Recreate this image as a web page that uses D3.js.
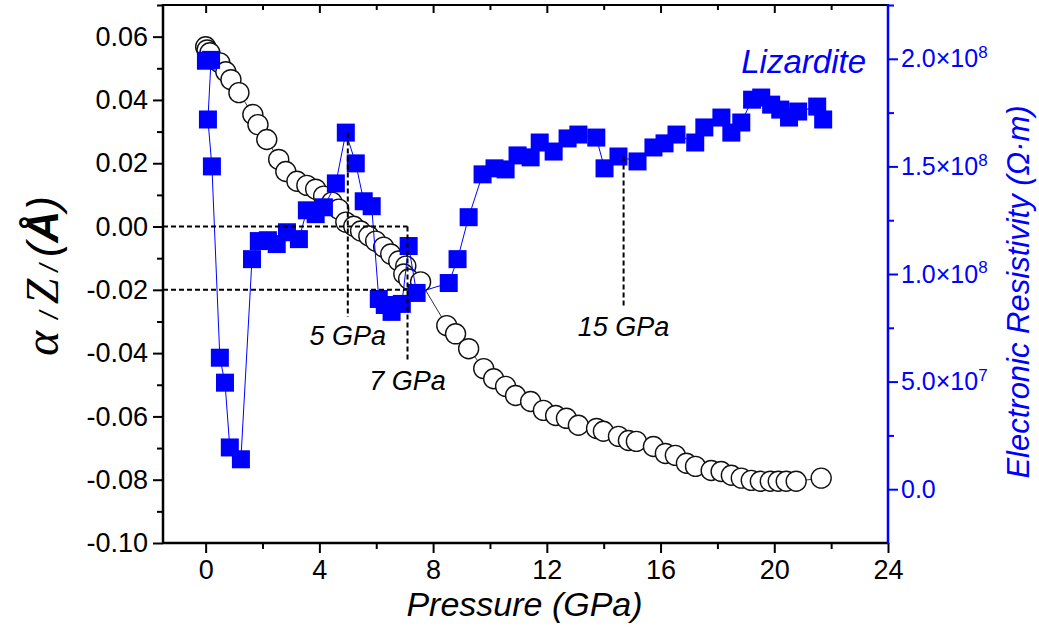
<!DOCTYPE html>
<html>
<head>
<meta charset="utf-8">
<script src="https://cdn.jsdelivr.net/npm/d3@7"></script>
<style>
  html, body { margin: 0; padding: 0; background: #fff; }
  svg { display: block; font-family: "Liberation Sans", Arial, sans-serif; }
</style>
</head>
<body>
<svg id="chart" width="1039" height="630"></svg>
<script>
// Lizardite: interlayer parameter α/Z/ (left axis) and electronic resistivity (right axis) vs pressure
const alphaPressure = [0.0, 0.05, 0.15, 0.50, 0.71, 0.89, 1.17, 1.66, 1.84, 2.15, 2.57, 2.82, 3.21, 3.56, 3.87, 4.15, 4.44, 4.68, 4.93, 5.21, 5.45, 5.74, 5.98, 6.26, 6.51, 6.79, 7.04, 6.97, 7.14, 7.56, 8.48, 8.79, 9.25, 9.78, 10.13, 10.55, 10.90, 11.43, 11.88, 12.31, 12.69, 13.11, 13.75, 13.99, 14.52, 14.87, 15.15, 15.75, 16.17, 16.52, 16.91, 17.23, 17.78, 18.13, 18.49, 18.84, 19.19, 19.51, 19.86, 20.14, 20.42, 20.77, 21.65];
const alphaZ = [0.0568, 0.0558, 0.0549, 0.0517, 0.0489, 0.0464, 0.0423, 0.0354, 0.0322, 0.0275, 0.0212, 0.0174, 0.0143, 0.0130, 0.0118, 0.0096, 0.0077, 0.0055, 0.0014, 0.0001, -0.0014, -0.0030, -0.0046, -0.0065, -0.0087, -0.0109, -0.0125, -0.0150, -0.0166, -0.0175, -0.0313, -0.0339, -0.0386, -0.0449, -0.0481, -0.0505, -0.0534, -0.0553, -0.0581, -0.0597, -0.0606, -0.0628, -0.0638, -0.0647, -0.0663, -0.0676, -0.0679, -0.0695, -0.0717, -0.0723, -0.0748, -0.0758, -0.0771, -0.0774, -0.0786, -0.0795, -0.0802, -0.0805, -0.0805, -0.0805, -0.0805, -0.0805, -0.0795];

const rhoPressure = [0.01, 0.19, 0.08, 0.22, 0.50, 0.68, 0.85, 1.24, 1.63, 1.87, 2.19, 2.50, 2.86, 3.28, 3.56, 3.87, 4.16, 4.58, 4.93, 5.28, 5.56, 5.84, 6.09, 6.30, 6.54, 6.90, 7.14, 7.42, 8.55, 8.86, 9.25, 9.74, 10.16, 10.55, 10.97, 11.43, 11.75, 12.24, 12.73, 13.11, 13.74, 14.03, 14.52, 15.19, 15.75, 16.14, 16.56, 17.22, 17.54, 18.14, 18.49, 18.84, 19.22, 19.54, 19.89, 20.21, 20.52, 20.84, 21.51, 21.72];
const rho = [1.991e8, 1.995e8, 1.718e8, 1.500e8, 0.611e8, 0.495e8, 0.194e8, 0.139e8, 1.069e8, 1.153e8, 1.157e8, 1.139e8, 1.194e8, 1.162e8, 1.296e8, 1.278e8, 1.310e8, 1.421e8, 1.657e8, 1.514e8, 1.338e8, 1.315e8, 0.884e8, 0.856e8, 0.824e8, 0.861e8, 1.130e8, 0.912e8, 0.958e8, 1.069e8, 1.264e8, 1.463e8, 1.491e8, 1.486e8, 1.551e8, 1.542e8, 1.611e8, 1.569e8, 1.630e8, 1.648e8, 1.634e8, 1.491e8, 1.546e8, 1.523e8, 1.588e8, 1.607e8, 1.648e8, 1.611e8, 1.681e8, 1.727e8, 1.657e8, 1.704e8, 1.810e8, 1.820e8, 1.787e8, 1.764e8, 1.727e8, 1.755e8, 1.778e8, 1.718e8];

const xTicks = [0, 4, 8, 12, 16, 20, 24];
const xMinorTicks = [2, 6, 10, 14, 18, 22];
const yLeftTicks = [-0.10, -0.08, -0.06, -0.04, -0.02, 0.00, 0.02, 0.04, 0.06];
const yLeftMinorTicks = [-0.09, -0.07, -0.05, -0.03, -0.01, 0.01, 0.03, 0.05, 0.07];
const yRightTicks = [0, 5e7, 1e8, 1.5e8, 2e8];
const yRightMinorTicks = [2.5e7, 7.5e7, 1.25e8, 1.75e8, 2.25e8];

// Reference guides: dashed levels and pressures marked on the plot
const guideLevels = [0.00, -0.02];
const guideLevelEnd = 7.1;
const markerPressures = [5, 7.1, 14.7];
const markerLabels = ["5 GPa", "7 GPa", "15 GPa"];

const BLUE = "#0000ff";
const svg = d3.select("#chart");
const L = 163, R = 888, T = 5, B = 543;

const x = d3.scaleLinear().domain([-1.5, 24]).range([L, R]);
const yL = d3.scaleLinear().domain([-0.10, 0.07]).range([B, T]);
const yR = d3.scaleLinear().domain([-2.5e7, 2.25e8]).range([B, T]);

// plain hyphen-minus for negative tick values
const fmtLeft = v => d3.format(".2f")(v).replace("−", "-");

// ---- axes ----
function styleAxis(g, color, width, size) {
  g.select(".domain").remove();
  g.selectAll(".tick line").attr("stroke", color).attr("stroke-width", width);
  g.selectAll(".tick text").attr("fill", color).style("font-size", (size || 27) + "px");
}

// minor ticks
svg.append("g").attr("transform", `translate(0,${B})`)
  .call(d3.axisBottom(x).tickValues(xMinorTicks).tickSize(6).tickFormat(""))
  .call(g => styleAxis(g, "#000", 2));
svg.append("g").attr("transform", `translate(${L},0)`)
  .call(d3.axisLeft(yL).tickValues(yLeftMinorTicks).tickSize(6).tickFormat(""))
  .call(g => styleAxis(g, "#000", 2));
svg.append("g").attr("transform", `translate(${R},0)`)
  .call(d3.axisRight(yR).tickValues(yRightMinorTicks).tickSize(6).tickFormat(""))
  .call(g => styleAxis(g, BLUE, 2));
// top axis: inward ticks, no labels
svg.append("g").attr("transform", `translate(0,${T})`)
  .call(d3.axisBottom(x).tickValues(xMinorTicks).tickSize(5).tickFormat(""))
  .call(g => styleAxis(g, "#000", 2));
svg.append("g").attr("transform", `translate(0,${T})`)
  .call(d3.axisBottom(x).tickValues(xTicks.slice(0, -1)).tickSize(8).tickFormat(""))
  .call(g => styleAxis(g, "#000", 2));

// major ticks with labels
svg.append("g").attr("transform", `translate(0,${B})`)
  .call(d3.axisBottom(x).tickValues(xTicks).tickSize(10).tickPadding(7).tickFormat(d3.format("d")))
  .call(g => styleAxis(g, "#000", 2, 27));
svg.append("g").attr("transform", `translate(${L},0)`)
  .call(d3.axisLeft(yL).tickValues(yLeftTicks).tickSize(10).tickPadding(5).tickFormat(fmtLeft))
  .call(g => styleAxis(g, "#000", 2, 27));

const rightAxis = svg.append("g").attr("transform", `translate(${R},0)`)
  .call(d3.axisRight(yR).tickValues(yRightTicks).tickSize(10).tickPadding(3).tickFormat(""))
  .call(g => styleAxis(g, BLUE, 2, 25));
rightAxis.selectAll(".tick").each(function(d) {
  const t = d3.select(this).select("text").text(null);
  if (d === 0) { t.text("0.0"); return; }
  const e = Math.floor(Math.log10(d));
  const m = d / Math.pow(10, e);
  t.append("tspan").text(m.toFixed(1) + "×10");
  t.append("tspan").attr("dy", "-0.55em").style("font-size", "17px").text(e);
});
rightAxis.selectAll(".tick text").attr("dy", "0.32em");

// frame lines
svg.append("line").attr("x1", L).attr("x2", R).attr("y1", T).attr("y2", T).attr("stroke", "#000").attr("stroke-width", 2);
svg.append("line").attr("x1", L).attr("x2", R).attr("y1", B).attr("y2", B).attr("stroke", "#000").attr("stroke-width", 2.5);
svg.append("line").attr("x1", L).attr("x2", L).attr("y1", T - 1).attr("y2", B + 1).attr("stroke", "#000").attr("stroke-width", 2.5);
svg.append("line").attr("x1", R).attr("x2", R).attr("y1", T - 1).attr("y2", B + 1).attr("stroke", BLUE).attr("stroke-width", 2.5);

// ---- axis titles ----
svg.append("text")
  .attr("x", (L + R) / 2 - 1).attr("y", 616)
  .attr("text-anchor", "middle")
  .style("font-size", "34px").style("font-style", "italic")
  .text("Pressure (GPa)");

const lt = svg.append("text")
  .attr("transform", "translate(58,276) rotate(-90)")
  .attr("text-anchor", "middle")
  .style("font-size", "44px").style("font-style", "italic");
lt.append("tspan").style("font-family", "'Liberation Serif', serif").style("font-size", "48px").text("α ");
lt.append("tspan").style("font-size", "26px").text(" / ");
lt.append("tspan").style("font-family", "'Liberation Serif', serif").style("font-size", "46px").text("Z");
lt.append("tspan").style("font-size", "26px").text(" / ");
lt.append("tspan").text(" (");
lt.append("tspan").style("font-weight", "bold").text("Å");
lt.append("tspan").text(")");

svg.append("text")
  .attr("transform", "translate(1029,292) rotate(-90)")
  .attr("text-anchor", "middle")
  .attr("fill", BLUE)
  .style("font-size", "31px").style("font-style", "italic")
  .text("Electronic Resistivity (Ω·m)");

svg.append("text")
  .attr("x", 866).attr("y", 73)
  .attr("text-anchor", "end")
  .attr("fill", BLUE)
  .style("font-size", "33px").style("font-style", "italic")
  .text("Lizardite");

// ---- series ----
const alphaData = alphaPressure.map((p, i) => ({ p, v: alphaZ[i] }));
const rhoData = rhoPressure.map((p, i) => ({ p, v: rho[i] }));

svg.append("path")
  .datum(alphaData)
  .attr("fill", "none").attr("stroke", "#333").attr("stroke-width", 1)
  .attr("d", d3.line().x(d => x(d.p)).y(d => yL(d.v)));

svg.append("g").selectAll("circle")
  .data(alphaData).join("circle")
  .attr("cx", d => x(d.p)).attr("cy", d => yL(d.v)).attr("r", 10)
  .attr("fill", "#fff").attr("stroke", "#111").attr("stroke-width", 1.4);

svg.append("path")
  .datum(rhoData)
  .attr("fill", "none").attr("stroke", BLUE).attr("stroke-width", 1)
  .attr("d", d3.line().x(d => x(d.p)).y(d => yR(d.v)));

const S = 18;
svg.append("g").selectAll("rect")
  .data(rhoData).join("rect")
  .attr("x", d => x(d.p) - S / 2).attr("y", d => yR(d.v) - S / 2)
  .attr("width", S).attr("height", S)
  .attr("fill", BLUE);

// ---- dashed guides ----
const dash = "5,3";
guideLevels.forEach(lv => {
  svg.append("line")
    .attr("x1", L).attr("x2", x(guideLevelEnd))
    .attr("y1", yL(lv)).attr("y2", yL(lv))
    .attr("stroke", "#000").attr("stroke-width", 2).attr("stroke-dasharray", dash);
});

// vertical markers: top anchored to a data level, bottom above the label
const markerTops = [yR(rho[18]), yL(0.00), yR(rho[42])];
const labelBaselines = [345, 390, 336];
markerPressures.forEach((p, i) => {
  svg.append("line")
    .attr("x1", x(p)).attr("x2", x(p))
    .attr("y1", markerTops[i]).attr("y2", labelBaselines[i] - 28)
    .attr("stroke", "#000").attr("stroke-width", 2).attr("stroke-dasharray", dash);
  svg.append("text")
    .attr("x", x(p)).attr("y", labelBaselines[i])
    .attr("text-anchor", "middle")
    .style("font-size", "27px").style("font-style", "italic")
    .text(markerLabels[i]);
});
</script>
</body>
</html>
